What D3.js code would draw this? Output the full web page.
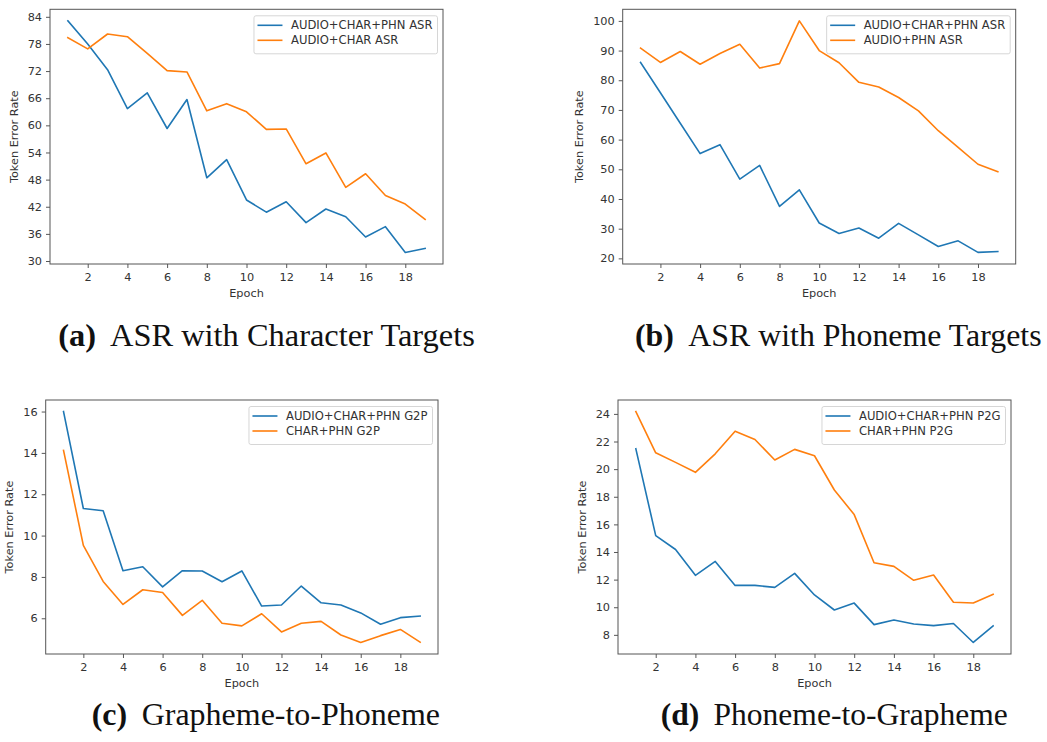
<!DOCTYPE html>
<html>
<head>
<meta charset="utf-8">
<script src="https://cdn.jsdelivr.net/npm/d3@7"></script>
<style>
  body { margin: 0; background: #fff; }
  svg { display: block; }
</style>
</head>
<body>
<svg id="fig" width="1047" height="742"></svg>
<script>
'use strict';

// epochs on the x axis, shared by every panel
var epochs = [1, 2, 3, 4, 5, 6, 7, 8, 9, 10, 11, 12, 13, 14, 15, 16, 17, 18, 19];
var xTickValues = [2, 4, 6, 8, 10, 12, 14, 16, 18];

// (a) ASR with character targets
var asrCharNames = ["AUDIO+CHAR+PHN ASR", "AUDIO+CHAR ASR"];
var asrCharJoint = [83.1, 78.0, 72.3, 63.7, 67.2, 59.3, 65.7, 48.4, 52.4, 43.5, 40.8, 43.1, 38.5, 41.5, 39.8, 35.3, 37.6, 31.9, 32.8];
var asrCharOnly = [79.4, 76.9, 80.2, 79.6, 75.9, 72.1, 71.8, 63.2, 64.8, 63.0, 59.1, 59.2, 51.5, 53.9, 46.3, 49.3, 44.5, 42.6, 39.2];
var asrCharTicks = [30, 36, 42, 48, 54, 60, 66, 72, 78, 84];

// (b) ASR with phoneme targets
var asrPhnNames = ["AUDIO+CHAR+PHN ASR", "AUDIO+PHN ASR"];
var asrPhnJoint = [86.0, 75.8, 65.5, 55.3, 58.3, 46.7, 51.3, 37.5, 43.1, 31.9, 28.4, 30.2, 26.8, 31.8, 27.9, 24.0, 25.9, 22.0, 22.3];
var asrPhnOnly = [90.8, 86.0, 89.7, 85.4, 89.0, 92.1, 84.1, 85.6, 100.0, 90.0, 85.9, 79.3, 77.7, 74.2, 69.7, 63.0, 57.4, 51.7, 49.2];
var asrPhnTicks = [20, 30, 40, 50, 60, 70, 80, 90, 100];

// (c) grapheme-to-phoneme
var g2pNames = ["AUDIO+CHAR+PHN G2P", "CHAR+PHN G2P"];
var g2pJoint = [16.0, 11.31, 11.2, 8.3, 8.49, 7.52, 8.3, 8.29, 7.77, 8.29, 6.59, 6.64, 7.56, 6.75, 6.64, 6.26, 5.71, 6.03, 6.11];
var g2pOnly = [14.12, 9.53, 7.78, 6.67, 7.38, 7.25, 6.14, 6.87, 5.76, 5.63, 6.22, 5.34, 5.76, 5.85, 5.19, 4.83, 5.16, 5.46, 4.84];
var g2pTicks = [6, 8, 10, 12, 14, 16];

// (d) phoneme-to-grapheme
var p2gNames = ["AUDIO+CHAR+PHN P2G", "CHAR+PHN P2G"];
var p2gJoint = [21.47, 15.19, 14.18, 12.31, 13.32, 11.58, 11.58, 11.44, 12.45, 10.89, 9.8, 10.3, 8.74, 9.08, 8.79, 8.67, 8.82, 7.45, 8.65];
var p2gOnly = [24.17, 21.18, 20.49, 19.77, 21.11, 22.75, 22.15, 20.66, 21.43, 20.97, 18.49, 16.71, 13.22, 12.96, 11.95, 12.33, 10.36, 10.31, 10.93];
var p2gTicks = [8, 10, 12, 14, 16, 18, 20, 22, 24];

var captionTags = ["(a)", "(b)", "(c)", "(d)"];
var captionTexts = ["ASR with Character Targets", "ASR with Phoneme Targets", "Grapheme-to-Phoneme", "Phoneme-to-Grapheme"];

var colors = ["#1f77b4", "#ff7f0e"];
var sansFont = "'DejaVu Sans', sans-serif";
var serifFont = "'Liberation Serif', 'Times New Roman', serif";
var fs = 11.3;
var legendFs = 11.6;

// layout of each subplot: frame box and caption placement
var panels = [
    { names: asrCharNames, data: [asrCharJoint, asrCharOnly], ticks: asrCharTicks,
      left: 50, top: 9.3, right: 443, bottom: 264, capX: 58.3, bodyX: 110, capEnd: 475, capY: 346 },
    { names: asrPhnNames, data: [asrPhnJoint, asrPhnOnly], ticks: asrPhnTicks,
      left: 622.7, top: 9.3, right: 1015.7, bottom: 264, capX: 635, bodyX: 688.3, capEnd: 1041.7, capY: 346 },
    { names: g2pNames, data: [g2pJoint, g2pOnly], ticks: g2pTicks,
      left: 45.7, top: 400, right: 438, bottom: 654, capX: 91.7, bodyX: 141.7, capEnd: 440, capY: 725 },
    { names: p2gNames, data: [p2gJoint, p2gOnly], ticks: p2gTicks,
      left: 618, top: 400, right: 1011, bottom: 654, capX: 660.7, bodyX: 713.5, capEnd: 1008, capY: 725 }
];

var svg = d3.select("#fig");
svg.append("rect").attr("width", 1047).attr("height", 742).attr("fill", "#fff");

panels.forEach(function(p, i) {
    drawPanel(p, i);
});

function drawPanel(p, i) {
    var allValues = d3.merge(p.data);
    var lo = d3.min(allValues), hi = d3.max(allValues);
    var pad = (hi - lo) * 0.05;

    // matplotlib-style 5% margins
    var x = d3.scaleLinear()
        .domain([1 - 0.9, 19 + 0.9])
        .range([p.left, p.right]);
    var y = d3.scaleLinear()
        .domain([lo - pad, hi + pad])
        .range([p.bottom, p.top]);

    var g = svg.append("g");

    // lines
    var line = d3.line()
        .x(function(d, k) { return x(epochs[k]); })
        .y(function(d) { return y(d); });

    p.data.forEach(function(vals, k) {
        g.append("path")
            .datum(vals)
            .attr("d", line)
            .attr("fill", "none")
            .attr("stroke", colors[k])
            .attr("stroke-width", 1.6)
            .attr("stroke-linejoin", "round")
            .attr("stroke-linecap", "square");
    });

    // axes
    var xAxis = d3.axisBottom(x)
        .tickValues(xTickValues)
        .tickSize(4)
        .tickPadding(4.5)
        .tickSizeOuter(0);
    var yAxis = d3.axisLeft(y)
        .tickValues(p.ticks)
        .tickSize(4)
        .tickPadding(4)
        .tickSizeOuter(0);

    var gx = g.append("g")
        .attr("transform", "translate(0," + p.bottom + ")")
        .call(xAxis);
    var gy = g.append("g")
        .attr("transform", "translate(" + p.left + ",0)")
        .call(yAxis);

    [gx, gy].forEach(function(ax) {
        ax.select(".domain").remove();
        ax.selectAll("line").attr("stroke", "#444").attr("stroke-width", 0.9);
        ax.selectAll("text")
            .attr("fill", "#333")
            .style("font-family", sansFont)
            .style("font-size", fs + "px");
    });

    // frame
    g.append("rect")
        .attr("x", p.left)
        .attr("y", p.top)
        .attr("width", p.right - p.left)
        .attr("height", p.bottom - p.top)
        .attr("fill", "none")
        .attr("stroke", "#555")
        .attr("stroke-width", 1);

    // axis labels
    var maxW = d3.max(gy.selectAll("text").nodes(), function(n) {
        return n.getComputedTextLength();
    });

    g.append("text")
        .attr("x", (p.left + p.right) / 2)
        .attr("y", p.bottom + 32.5)
        .attr("text-anchor", "middle")
        .attr("fill", "#333")
        .style("font-family", sansFont)
        .style("font-size", fs + "px")
        .text("Epoch");

    var ylx = p.left - 8.5 - maxW - 9.5;
    g.append("text")
        .attr("transform", "translate(" + ylx + "," + (p.top + p.bottom) / 2 + ") rotate(-90)")
        .attr("text-anchor", "middle")
        .attr("fill", "#333")
        .style("font-family", sansFont)
        .style("font-size", fs + "px")
        .text("Token Error Rate");

    // legend, upper right
    var leg = g.append("g");
    var box = leg.append("rect");
    var texts = [];
    p.names.forEach(function(name, k) {
        var t = leg.append("text")
            .attr("y", 9.5 + k * 15)
            .attr("dy", "0.35em")
            .attr("fill", "#333")
            .style("font-family", sansFont)
            .style("font-size", legendFs + "px")
            .text(name);
        texts.push(t);
    });
    var textW = d3.max(texts, function(t) { return t.node().getComputedTextLength(); });
    var boxW = textW + 42;
    var bx = p.right - 5.5 - boxW;
    var by = p.top + 6.5;
    leg.attr("transform", "translate(" + bx + "," + by + ")");
    box.attr("width", boxW)
        .attr("height", 38)
        .attr("rx", 2)
        .attr("fill", "#fff")
        .attr("fill-opacity", 0.8)
        .attr("stroke", "#d6d6d6")
        .attr("stroke-width", 1);
    texts.forEach(function(t, k) {
        t.attr("x", 37);
        leg.append("line")
            .attr("x1", 3.5)
            .attr("x2", 28.5)
            .attr("y1", 9.5 + k * 15)
            .attr("y2", 9.5 + k * 15)
            .attr("stroke", colors[k])
            .attr("stroke-width", 1.6);
    });

    // caption below the subplot
    var tag = svg.append("text")
        .attr("x", p.capX)
        .attr("y", p.capY)
        .attr("fill", "#111")
        .style("font-family", serifFont)
        .style("font-weight", "bold")
        .style("font-size", "31px")
        .text(captionTags[i]);
    var body = svg.append("text")
        .attr("x", p.bodyX)
        .attr("y", p.capY)
        .attr("fill", "#111")
        .style("font-family", serifFont)
        .style("font-size", "31px")
        .text(captionTexts[i]);
    var w = body.node().getComputedTextLength();
    var target = p.capEnd - p.bodyX;
    var size = 31 * target / w;
    body.style("font-size", size + "px");
    tag.style("font-size", size + "px");
}
</script>
</body>
</html>
